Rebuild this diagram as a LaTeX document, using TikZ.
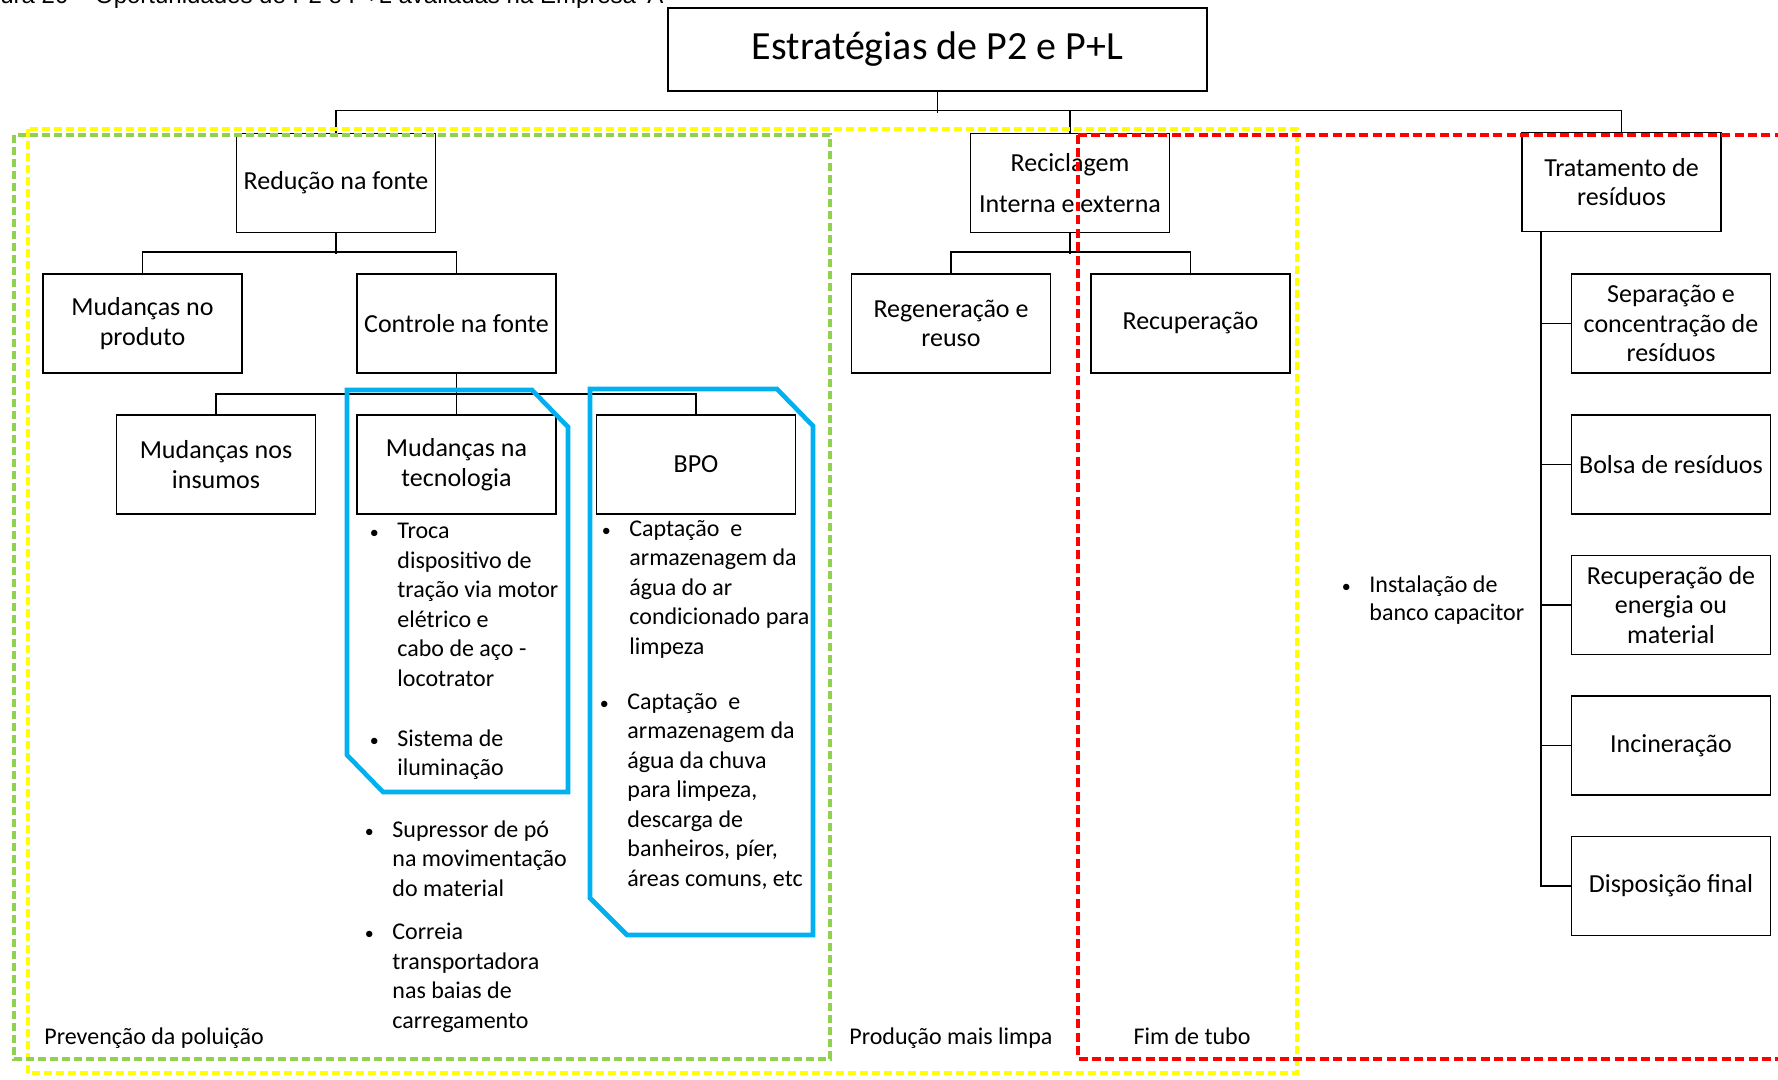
\documentclass[tikz,border=0pt]{standalone}
\usepackage{fontspec}
\setmainfont{Carlito}
\newfontfamily\capfont{Liberation Sans}
\usepackage{tikz}
\usetikzlibrary{positioning}
\usetikzlibrary{calc}
\definecolor{verdezona}{RGB}{146,208,80}
\definecolor{amarelozona}{RGB}{255,255,0}
\definecolor{vermelhozona}{RGB}{255,0,0}
\definecolor{azulbpo}{RGB}{0,176,240}
\newcommand{\bul}{\llap{{\fontsize{9}{9}\selectfont\textbullet}\hspace{9.25pt}}}

\begin{document}
\begin{tikzpicture}
  [
    x=0.5pt, y=-0.5pt,
    box/.style={draw=black, line width=0.8pt, minimum width=99.5pt,
      minimum height=49.5pt, inner sep=1pt, align=center,
      font=\fontsize{13}{14.75}\selectfont},
    items/.style={anchor=north west, inner sep=0pt, align=left,
      font=\fontsize{12}{14.75}\selectfont},
    lbl/.style={anchor=base west, inner sep=0pt,
      font=\fontsize{12}{14.5}\selectfont},
    zona/.style={line width=1.7pt, dash pattern=on 4pt off 2pt},
    moldura/.style={draw=azulbpo, line width=2.3pt, line join=miter},
    ln/.style={draw=black, line width=0.8pt}
  ]
  \useasboundingbox (0,0) rectangle (1778,1080);

  \node (legenda) at (0,4) [anchor=base west, inner sep=0pt,
    font=\capfont\fontsize{12}{14}\selectfont]
    {ura 20 – Oportunidades de P2 e P+L avaliadas na Empresa 'A'};

  \node (titulo) at (937.5,49.5) [box, minimum width=269.5pt,
    minimum height=41.5pt, font=\fontsize{20}{24}\selectfont]
    {Estratégias de P2 e P+L};

  \node (reducao)     at (336,183)    [box] {Redução na fonte};
  \node (reciclagem)  at (1070,183)   [box] {Reciclagem\\[5.75pt]Interna e externa};
  \node (tratamento)  at (1621.5,182) [box] {Tratamento de\\resíduos};

  \node (produto)     at (142.5,323.5) [box] {Mudanças no\\produto};
  \node (controle)    at (456.5,323.5) [box] {Controle na fonte};
  \node (regeneracao) at (951,323.5)   [box] {Regeneração e\\reuso};
  \node (recuperacao) at (1190.5,323.5)[box] {Recuperação};

  \node (insumos)     at (216,464.5)   [box] {Mudanças nos\\insumos};
  \node (tecnologia)  at (456.5,464.5) [box] {Mudanças na\\tecnologia};
  \node (bpo)         at (696,464.5)   [box] {BPO};

  \node (separacao)   at (1671,323.5)  [box] {Separação e\\concentração de\\resíduos};
  \node (bolsa)       at (1671,464.5)  [box] {Bolsa de resíduos};
  \node (energia)     at (1671,605)    [box] {Recuperação de\\energia ou\\material};
  \node (incineracao) at (1671,745.5)  [box] {Incineração};
  \node (disposicao)  at (1671,886)    [box] {Disposição final};

  \draw [ln] (titulo.south) -- ++(0,21);
  \draw [ln] (reducao.north) -- ++(0,-22) -| (tratamento.north);
  \draw [ln] (reciclagem.north) -- ++(0,-22);
  \draw [ln] (reducao.south) -- ++(0,20.5);
  \draw [ln] (produto.north) -- ++(0,-21) -| (controle.north);
  \draw [ln] (controle.south) -- (tecnologia.north);
  \draw [ln] (insumos.north) -- ++(0,-20) -| (bpo.north);
  \draw [ln] (reciclagem.south) -- ++(0,20.5);
  \draw [ln] (regeneracao.north) -- ++(0,-21) -| (recuperacao.north);
  \draw [ln] ([xshift=10pt]tratamento.south west) |- (disposicao.west);
  \foreach \n in {separacao,bolsa,energia,incineracao}
    \draw [ln] (\n.west) -- ++(-29,0);

  \draw [zona, draw=amarelozona] (28,129) rectangle (1297,1073);
  \draw [zona, draw=verdezona] (14,135) rectangle (830,1059);
  \draw [zona, draw=vermelhozona, line width=2pt, dash pattern=on 4.5pt off 2.2pt]
    (1078,135) rectangle (1800,1059);

  \draw [moldura] (347,390) -- (532,390) -- (568,427) -- (568,792)
    -- (383,792) -- (347,755) -- cycle;
  \draw [moldura] (590,389) -- (777,389) -- (813,426) -- (813,935)
    -- (627,935) -- (590,898) -- cycle;

  \node (tec1) at (397,523) [items]
    {\bul Troca\\dispositivo de\\tração via motor\\elétrico e\\cabo de aço -\\locotrator};
  \node (tec2) at (397,729) [items] {\bul Sistema de\\iluminação};
  \node (sup)  at (392,820) [items] {\bul Supressor de pó\\na movimentação\\do material};
  \node (cor)  at (392,923) [items] {\bul Correia\\transportadora\\nas baias de\\carregamento};
  \node (bpo1) at (629,520) [items]
    {\bul Captação~ e\\armazenagem da\\água do ar\\condicionado para\\limpeza};
  \node (bpo2) at (627,693) [items]
    {\bul Captação~ e\\armazenagem da\\água da chuva\\para limpeza,\\descarga de\\banheiros, píer,\\áreas comuns, etc};
  \node (cap)  at (1369,575) [items, font=\fontsize{12}{14.2}\selectfont]
    {\bul Instalação de\\banco capacitor};

  \node (prevencao) at (44,1044)  [lbl] {Prevenção da poluição};
  \node (maislimpa) at (849,1044) [lbl] {Produção mais limpa};
  \node (fimtubo)   at (1192,1044)[lbl, anchor=base] {Fim de tubo};
\end{tikzpicture}
\end{document}
